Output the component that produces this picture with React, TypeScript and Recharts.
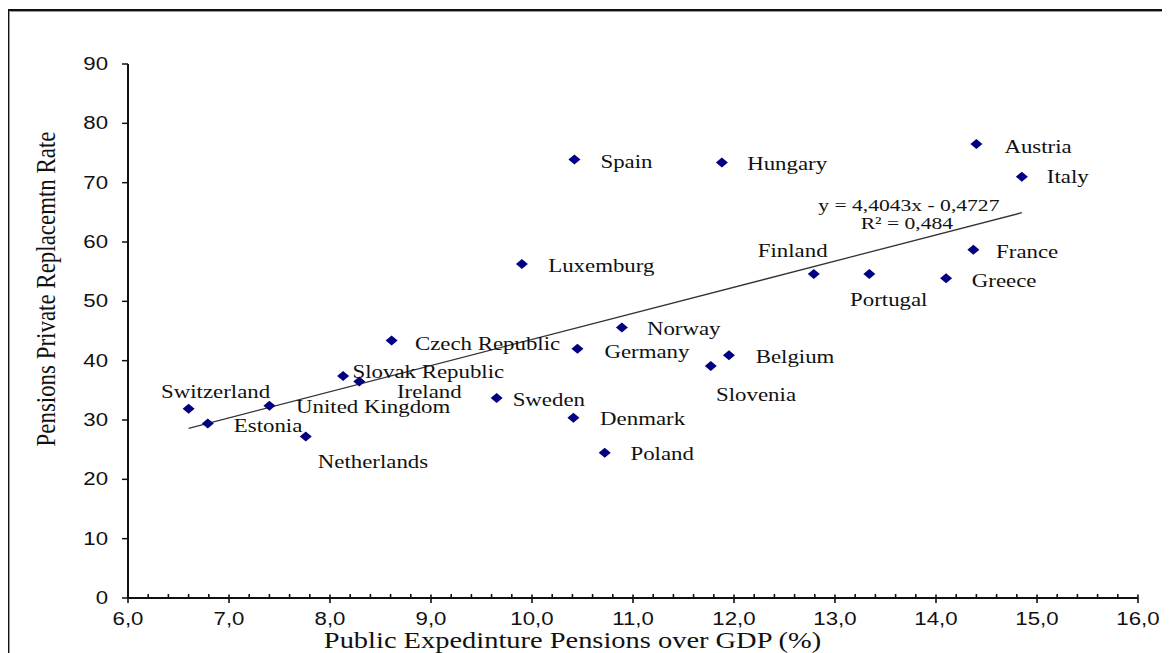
import React from 'react';
import { ScatterChart, Scatter, XAxis, YAxis, ReferenceLine } from 'recharts';

// Public pension expenditure (% of GDP) vs. private pension replacement rate
const countries = [
  'Switzerland', 'Estonia', 'United  Kingdom', 'Netherlands', 'Slovak Republic', 'Ireland',
  'Czech Republic', 'Sweden', 'Luxemburg', 'Spain', 'Germany', 'Denmark', 'Norway', 'Poland',
  'Slovenia', 'Belgium', 'Hungary', 'Finland', 'Portugal', 'Greece', 'France', 'Austria', 'Italy',
];
const publicExpenditure = [
  6.6, 6.79, 7.4, 7.76, 8.13, 8.29, 8.61, 9.65, 9.9, 10.42, 10.45, 10.41, 10.89, 10.72,
  11.77, 11.95, 11.88, 12.79, 13.34, 14.1, 14.37, 14.4, 14.85,
];
const privateReplacement = [
  31.9, 29.4, 32.4, 27.2, 37.4, 36.5, 43.4, 33.7, 56.3, 73.9, 42.0, 30.4, 45.6, 24.5,
  39.1, 40.9, 73.4, 54.6, 54.6, 53.9, 58.7, 76.5, 71.0,
];

// Linear trend line as stated by its label
const fitSlope = 4.4043;
const fitIntercept = -0.4727;
const fitEquationText = 'y = 4,4043x - 0,4727';
const fitR2Text = 'R\u00b2 = 0,484';

// Axis ticks
const yTicks = [0, 10, 20, 30, 40, 50, 60, 70, 80, 90];
const xMajorTicks = [6, 7, 8, 9, 10, 11, 12, 13, 14, 15, 16];
const xTickLabels = ['6,0', '7,0', '8,0', '9,0', '10,0', '11,0', '12,0', '13,0', '14,0', '15,0', '16,0'];
const xMinorPerMajor = 5;

const xTitle = 'Public Expedinture Pensions over GDP (%)';
const yTitle = 'Pensions  Private Replacemtn Rate';

// Label placement relative to each marker: [left edge dx, vertical centre dy]
const labelOffsets: Record<string, [number, number]> = {
  'Switzerland': [-27.6, -17.3],
  'Estonia': [26, 2],
  'United  Kingdom': [26.7, 1.6],
  'Netherlands': [12, 25.6],
  'Slovak Republic': [9.4, -3.8],
  'Ireland': [37.7, 10.5],
  'Czech Republic': [23.3, 3.3],
  'Sweden': [16, 2],
  'Luxemburg': [26.3, 1.7],
  'Spain': [26, 2],
  'Germany': [27, 2.7],
  'Denmark': [26.7, 1],
  'Norway': [25, 1.3],
  'Poland': [25.7, 1],
  'Slovenia': [5.3, 29],
  'Belgium': [26.7, 1.6],
  'Hungary': [25.3, 1.3],
  'Finland': [-56, -23.3],
  'Portugal': [-19.3, 26],
  'Greece': [25.7, 2.4],
  'France': [22.7, 2.3],
  'Austria': [28, 2.7],
  'Italy': [25, 0],
};

const points = countries.map((name, i) => ({
  name,
  x: publicExpenditure[i],
  y: privateReplacement[i],
}));

const xMin = Math.min(...publicExpenditure);
const xMax = Math.max(...publicExpenditure);
const fitAt = (x: number) => fitSlope * x + fitIntercept;
const fitAnchor = [{ x: xMax, y: fitAt(xMax) }];

const xAllTicks: number[] = [];
xMajorTicks.forEach((t, i) => {
  xAllTicks.push(t);
  if (i < xMajorTicks.length - 1) {
    for (let k = 1; k < xMinorPerMajor; k++) {
      xAllTicks.push(Math.round((t + k / xMinorPerMajor) * 10) / 10);
    }
  }
});

const SERIF = '"Liberation Serif", "Times New Roman", serif';
const SANS = '"Liberation Sans", Arial, sans-serif';
const STRETCH = 1.27;
const INK = '#111';
const MARKER = '#000080';

type STProps = {
  x: number;
  y: number;
  size: number;
  family: string;
  anchor?: 'start' | 'middle' | 'end';
  children: React.ReactNode;
};

const StretchText = ({ x, y, size, family, anchor = 'start', children }: STProps) => (
  <g transform={`translate(${x},${y}) scale(${STRETCH},1)`}>
    <text x={0} y={0} textAnchor={anchor} dominantBaseline="central" fontSize={size} fontFamily={family} fill={INK}>
      {children}
    </text>
  </g>
);

const renderXTick = (props: any) => {
  const { x, y, payload } = props;
  const v = payload.value as number;
  const idx = xMajorTicks.indexOf(v);
  if (idx >= 0) {
    return (
      <g>
        <line x1={x} x2={x} y1={y - 3.5} y2={y + 5} stroke={INK} strokeWidth={1.6} />
        <StretchText x={x} y={y + 21} size={17.5} family={SANS} anchor="middle">
          {xTickLabels[idx]}
        </StretchText>
      </g>
    );
  }
  return <line x1={x} x2={x} y1={y - 4} y2={y} stroke={INK} strokeWidth={1.6} />;
};

const renderYTick = (props: any) => {
  const { x, y, payload } = props;
  return (
    <StretchText x={x} y={y} size={17.5} family={SANS} anchor="end">
      {String(payload.value)}
    </StretchText>
  );
};

const renderXTitle = () => (
  <StretchText x={564.5} y={633} size={22.4} family={SERIF} anchor="middle">
    {xTitle}
  </StretchText>
);

const renderYTitle = () => (
  <g transform={`translate(38.5,281) rotate(-90) scale(1,${STRETCH})`}>
    <text
      x={0}
      y={0}
      textAnchor="middle"
      dominantBaseline="central"
      fontSize={21}
      fontFamily={SERIF}
      fill={INK}
      textLength={315}
      lengthAdjust="spacingAndGlyphs"
    >
      {yTitle}
    </text>
  </g>
);

const renderPoint = (props: any) => {
  const { cx, cy, payload } = props;
  const off = labelOffsets[payload.name] || [20, 0];
  return (
    <g>
      <polygon
        points={`${cx},${cy - 5} ${cx + 6},${cy} ${cx},${cy + 5} ${cx - 6},${cy}`}
        fill={MARKER}
      />
      <StretchText x={cx + off[0]} y={cy + off[1]} size={18} family={SERIF}>
        {payload.name}
      </StretchText>
    </g>
  );
};

const renderFitLabel = (props: any) => {
  const { cx, cy } = props;
  return (
    <g>
      <StretchText x={cx - 113} y={cy - 7} size={17} family={SERIF} anchor="middle">
        {fitEquationText}
      </StretchText>
      <StretchText x={cx - 115} y={cy + 11} size={17} family={SERIF} anchor="middle">
        {fitR2Text}
      </StretchText>
    </g>
  );
};

export default function App() {
  return (
    <div style={{ position: 'relative', width: 1162, height: 645 }}>
      <div
        style={{
          position: 'absolute',
          left: -1,
          top: 1,
          width: 1163,
          height: 644,
          borderLeft: `2px solid ${INK}`,
          borderTop: `2px solid ${INK}`,
          boxShadow: 'inset 1px 1px 0 #999',
          boxSizing: 'border-box',
        }}
      />
      <ScatterChart width={1162} height={645} margin={{ top: 56, right: 32, bottom: 0, left: 0 }}>
        <XAxis
          type="number"
          dataKey="x"
          domain={[6, 16]}
          ticks={xAllTicks}
          interval={0}
          height={55}
          tickSize={0}
          tickMargin={0}
          tickLine={false}
          axisLine={{ stroke: INK, strokeWidth: 2 }}
          tick={renderXTick}
          label={{ content: renderXTitle }}
        />
        <YAxis
          type="number"
          dataKey="y"
          domain={[0, 90]}
          ticks={yTicks}
          interval={0}
          width={120}
          tickSize={6}
          tickMargin={14}
          tickLine={{ stroke: INK, strokeWidth: 1.5 }}
          axisLine={{ stroke: INK, strokeWidth: 2 }}
          tick={renderYTick}
          label={{ content: renderYTitle }}
        />
        <ReferenceLine
          segment={[
            { x: xMin, y: fitAt(xMin) },
            { x: xMax, y: fitAt(xMax) },
          ]}
          stroke="#333"
          strokeWidth={1.3}
          ifOverflow="visible"
        />
        <Scatter data={points} shape={renderPoint} isAnimationActive={false} />
        <Scatter data={fitAnchor} shape={renderFitLabel} isAnimationActive={false} />
      </ScatterChart>
    </div>
  );
}
